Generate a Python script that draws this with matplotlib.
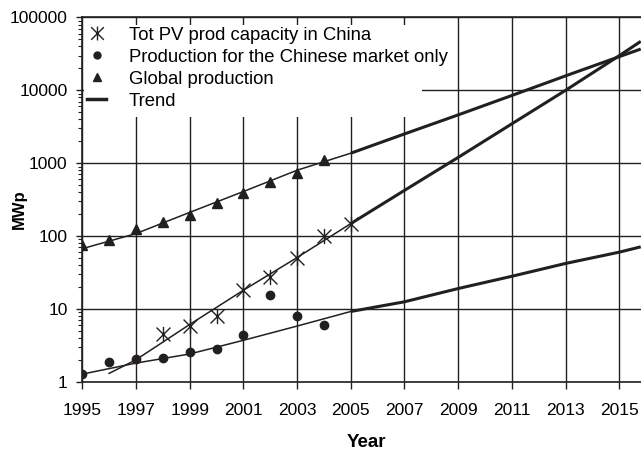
import matplotlib
matplotlib.use("Agg")
import matplotlib.pyplot as plt
from matplotlib.lines import Line2D
from matplotlib.path import Path
from matplotlib.patches import Rectangle
from matplotlib.ticker import FixedLocator, FixedFormatter, NullFormatter

plt.rcParams["font.family"] = ["Liberation Sans", "DejaVu Sans"]

# measured data
capacity_years = [1998, 1999, 2000, 2001, 2002, 2003, 2004, 2005]
capacity = [4.5, 5.8, 8.0, 18.4, 27, 50, 99, 148]

market_years = [1995, 1996, 1997, 1998, 1999, 2000, 2001, 2002, 2003, 2004]
market = [1.27, 1.88, 2.03, 2.1, 2.58, 2.8, 4.35, 15.7, 7.9, 6.0]

global_years = [1995, 1996, 1997, 1998, 1999, 2000, 2001, 2002, 2003, 2004]
global_prod = [76, 88, 126, 155, 194, 280, 385, 550, 725, 1100]

# trend curves (last point sits at the right edge of the plot)
trend_years = [1995, 1997, 1999, 2001, 2003, 2005, 2007, 2009, 2011, 2013, 2015, 2015.8]
trend_global = [67, 108, 211, 408, 800, 1370, 2520, 4600, 8500, 15800, 29000, 36900]
trend_market = [1.27, 1.8, 2.4, 3.7, 5.8, 9.2, 12.5, 19, 28, 42, 60, 71]
trend_capacity_years = [1996, 1997, 1999, 2001, 2003, 2005, 2007, 2009, 2011, 2013, 2015, 2015.8]
trend_capacity = [1.3, 2.0, 6.1, 18, 50.6, 148, 423, 1200, 3470, 10000, 29900, 47000]
fit_end = 2005

x_ticks = list(range(1995, 2016, 2))
y_ticks = [1, 10, 100, 1000, 10000, 100000]
y_labels = ["1", "10", "100", "1000", "10000", "100000"]

ink = "#231f20"

# six-armed star: an x with a vertical stroke through it
star = Path([(-1, -1), (1, 1), (-1, 1), (1, -1), (0, -1.1), (0, 1.1)],
            [Path.MOVETO, Path.LINETO, Path.MOVETO, Path.LINETO, Path.MOVETO, Path.LINETO])

fig = plt.figure(figsize=(6.41, 4.51), dpi=100)
ax = fig.add_axes([0.1284, 0.1537, 0.8716, 0.8075])
ax.set_yscale("log")
ax.set_xlim(1995, 2015.81)
ax.set_ylim(1, 100000)


def split_trend(xs, ys):
    inner = [(x, y) for x, y in zip(xs, ys) if x <= fit_end]
    outer = [(x, y) for x, y in zip(xs, ys) if x >= fit_end]
    ax.plot(*zip(*inner), color=ink, lw=1.1, zorder=3)
    ax.plot(*zip(*outer), color=ink, lw=2.2, zorder=3, solid_capstyle="butt")


split_trend(trend_years, trend_global)
split_trend(trend_years, trend_market)
split_trend(trend_capacity_years, trend_capacity)

ax.plot(capacity_years, capacity, ls="none", marker=star, ms=11, mew=1.0,
        mec=ink, mfc="none", zorder=4)
ax.plot(market_years, market, ls="none", marker="o", ms=6, color=ink, zorder=4)
ax.plot(global_years, global_prod, ls="none", marker="^", ms=7, color=ink, zorder=4)

# grid
ax.set_axisbelow(True)
ax.xaxis.set_major_locator(FixedLocator(x_ticks))
ax.yaxis.set_major_locator(FixedLocator(y_ticks))
ax.yaxis.set_major_formatter(FixedFormatter(y_labels))
ax.yaxis.set_minor_locator(FixedLocator([m * 10 ** e for e in range(5) for m in range(2, 10)]))
ax.yaxis.set_minor_formatter(NullFormatter())
ax.grid(True, which="major", color=ink, lw=1.0)

ax.tick_params(axis="x", which="major", direction="out", length=5, width=1.0,
               color=ink, labelsize=12.5, pad=10)
ax.tick_params(axis="y", which="major", direction="out", length=4.5, width=1.0,
               color=ink, labelsize=12.5, pad=6)
ax.tick_params(axis="y", which="minor", direction="out", length=3, width=0.8, color=ink)

for side in ["left", "bottom", "top"]:
    ax.spines[side].set_color(ink)
    ax.spines[side].set_linewidth(1.2)
ax.spines["right"].set_visible(False)

ax.set_xlabel("Year", fontsize=13.5, fontweight="bold")
ax.set_ylabel("MWp", fontsize=12, fontweight="bold")
ax.xaxis.set_label_coords(0.508, -0.143)
ax.yaxis.set_label_coords(-0.099, 0.474)

# white box behind the legend hides the grid there
ax.add_patch(Rectangle((0.003, 0.727), 0.605, 0.252, transform=ax.transAxes,
                       facecolor="white", edgecolor="none", zorder=1))

handles = [
    Line2D([], [], ls="none", marker=star, ms=10, mew=1.0, mec=ink, mfc="none"),
    Line2D([], [], ls="none", marker="o", ms=5, color=ink),
    Line2D([], [], ls="none", marker="^", ms=6, color=ink),
    Line2D([], [], color=ink, lw=2.5),
]
labels = ["Tot PV prod capacity in China", "Production for the Chinese market only",
          "Global production", "Trend"]
ax.legend(handles, labels, loc="upper left", bbox_to_anchor=(0.0084, 0.9745),
          frameon=False, borderaxespad=0, borderpad=0, fontsize=13.3,
          handlelength=1.03, handletextpad=1.24, labelspacing=0.27)

fig.savefig("out.png", dpi=100)
